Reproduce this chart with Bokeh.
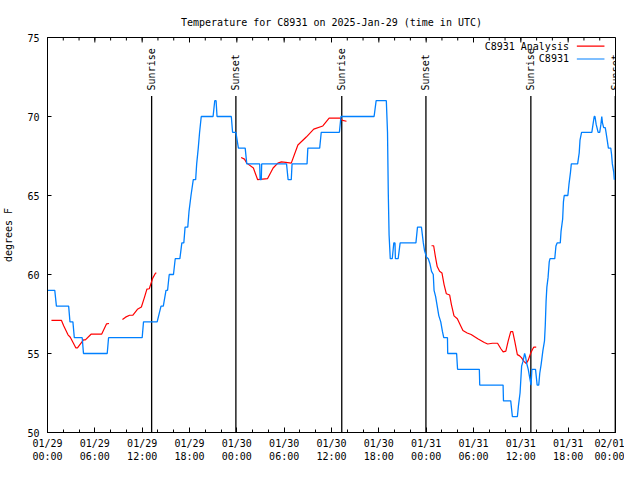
import math
from bokeh.plotting import figure
from bokeh.models import FixedTicker, Label, Range1d
from bokeh.embed import file_html
from bokeh.resources import INLINE

FONT = "DejaVu Sans Mono"
NAN = float("nan")

# ---- axis ticks (x in hours since 2025-01-29 00:00 UTC) ----
x_ticks = [0, 6, 12, 18, 24, 30, 36, 42, 48, 54, 60, 66, 72]
x_tick_labels = ["01/29\n00:00", "01/29\n06:00", "01/29\n12:00", "01/29\n18:00",
                 "01/30\n00:00", "01/30\n06:00", "01/30\n12:00", "01/30\n18:00",
                 "01/31\n00:00", "01/31\n06:00", "01/31\n12:00", "01/31\n18:00",
                 "02/01\n00:00"]
x_minor_ticks = list(range(0, 73, 2))
y_ticks = [50, 55, 60, 65, 70, 75]

# ---- C8931 observations ----
obs_hours = [0.0, 0.92, 1.13, 2.68, 2.85, 3.22, 3.4, 4.4, 4.56, 7.57, 7.74, 12.0, 12.17, 13.9,
             14.39, 14.68, 15.02, 15.22, 15.43, 15.97, 16.19, 16.78, 17.03, 17.28, 17.44, 17.78,
             17.94, 18.19, 18.48, 18.78, 18.91, 19.11, 19.28, 19.49, 20.99, 21.2, 21.37, 21.49,
             23.3, 23.46, 23.88, 24.2, 25.06, 25.26, 26.9, 26.95, 27.1, 27.15, 30.3, 30.5, 30.9,
             31.0, 32.9, 33.0, 34.5, 34.7, 37.0, 37.2, 41.4, 41.66, 42.95, 43.1, 43.2, 43.3, 43.45,
             43.7, 43.9, 44.05, 44.1, 44.45, 44.7, 46.7, 46.9, 47.4, 47.64, 47.8, 48.05, 48.27,
             48.47, 48.68, 48.9, 49.0, 49.2, 49.4, 49.6, 49.85, 50.06, 50.23, 50.7, 50.73, 51.86,
             51.98, 54.74, 54.79, 57.75, 57.8, 58.72, 58.93, 59.56, 59.7, 59.9, 60.1, 60.27, 60.48,
             60.6, 60.73, 60.94, 61.15, 61.3, 61.4, 61.86, 62.07, 62.27, 62.4, 62.57, 62.7, 62.8,
             63.0, 63.1, 63.2, 63.3, 63.45, 63.6, 63.7, 64.3, 64.45, 64.6, 65.0, 65.1, 65.3, 65.4,
             65.5, 65.96, 66.1, 66.3, 66.4, 67.2, 67.4, 67.5, 67.7, 69.0, 69.15, 69.3, 69.4, 69.55,
             69.8, 70.0, 70.15, 70.26, 70.35, 70.5, 70.7, 70.8, 70.95, 71.1, 71.4, 71.5, 71.6,
             71.77, 71.85]
obs_temps = [59, 59, 58, 58, 57, 57, 56, 56, 55, 55, 56, 56, 57, 57,
             58, 58, 59, 59, 60, 60, 61, 61, 62, 62, 63, 63,
             64, 65, 66, 66, 67, 68, 69, 70, 70, 71, 71, 70,
             70, 69, 69, 68, 68, 67, 67, 66, 66, 67, 67, 66, 66,
             67, 67, 68, 68, 69, 69, 70, 70, 71, 71, 69, 65.1, 62.5, 61,
             61, 62, 62, 61, 61, 62, 62, 63, 63, 62, 61.5, 61.1, 61,
             60.7, 60.2, 60, 59, 58.6, 58, 57.4, 57, 56.4, 56, 56, 55, 55,
             54, 54, 53, 53, 52, 52, 51, 51, 51.7, 52.5, 54.2, 54.5, 55,
             54.8, 54.4, 54, 53.4, 53, 54, 54, 53, 53, 53.75, 54.3, 54.8, 55.2,
             55.8, 56.8, 58.3, 59.2, 59.8, 60.8, 61, 61, 61.8, 62, 62, 62.75, 63.5, 64.6,
             65, 65, 65.7, 66.5, 67, 67, 67.7, 68.5, 69, 69, 69.5, 70, 70, 69.5,
             69, 69, 69.5, 70, 69.6, 69.3, 69.3, 69, 68.5, 68, 68, 67.6, 67,
             66.5, 66]

# ---- C8931 Analysis (NaN = gap) ----
ana_hours = [0.5, 1.76, 2.05, 2.6, 2.89, 3.6, 3.8, 4.56, 4.8, 5.52, 6.86, 7.49, 7.8, 8.5,
             9.5, 9.9, 10.4, 10.8, 11.4, 11.9, 12.3, 12.6, 12.9, 13.34, 13.7, 13.8, 20.0,
             24.55, 24.97, 25.26, 26.1, 26.64, 27.9, 28.6, 29.2, 29.65, 30.2, 30.9, 31.74, 32.8,
             33.75, 34.9, 35.7, 37.1, 37.4, 37.9, 43.0,
             48.68, 48.95, 49.18, 49.4, 49.7, 50.0, 50.27, 50.56, 50.98, 51.2, 51.53, 51.95,
             52.37, 52.66, 53.2, 53.7, 54.54, 55.37, 55.8, 56.4, 57.05, 57.47, 57.76, 58.1, 58.4,
             58.72, 58.97, 59.22, 59.56, 59.85, 60.1, 60.39, 60.69, 60.94, 61.23, 61.52, 61.65,
             61.95]
ana_temps = [57.1, 57.1, 56.76, 56.18, 56.03, 55.35, 55.35, 55.86, 55.86, 56.22, 56.22, 56.88, 56.9, NAN,
             57.15, 57.3, 57.42, 57.42, 57.8, 57.94, 58.57, 59.07, 59.1, 59.77, 60.09, 60.09, NAN,
             67.4, 67.3, 67.05, 66.74, 66.0, 66.07, 66.74, 67.05, 67.13, 67.1, 67.05, 68.2, 68.7,
             69.2, 69.4, 69.9, 69.9, 69.75, 69.7, NAN,
             61.82, 61.82, 61.1, 60.5, 60.2, 60.1, 59.36, 58.78, 58.7, 58.1, 57.38, 57.2,
             56.76, 56.45, 56.3, 56.2, 55.93, 55.7, 55.6, 55.65, 55.65, 55.3, 55.1, 55.15, 55.8,
             56.38, 56.38, 55.8, 54.93, 54.85, 54.72, 54.5, 54.37, 54.58, 55.0, 55.3, 55.4,
             55.4]

# ---- sun events ----
sun_events = ["Sunrise", "Sunset", "Sunrise", "Sunset", "Sunrise", "Sunset"]
sun_hours = [13.2, 23.88, 37.3, 47.97, 61.27, 71.97]

legend_names = ["C8931 Analysis", "C8931"]
legend_colors = ["#ff0000", "#0080ff"]

X0, X1, Y0, Y1 = 0, 72, 50, 75
W, H = 624, 464
BL, BR, BT, BB = 47, 9, 37, 30
FW, FH = W - BL - BR, H - BT - BB

p = figure(width=W, height=H,
           x_range=Range1d(X0, X1), y_range=Range1d(Y0, Y1),
           output_backend="svg", toolbar_location=None,
           min_border_left=BL, min_border_right=BR, min_border_top=BT, min_border_bottom=BB,
           background_fill_color="white", border_fill_color="white")
p.grid.visible = False
p.outline_line_color = "black"
p.outline_line_width = 1

p.title.text = "Temperature for C8931 on 2025-Jan-29 (time in UTC)"
p.title.align = "center"
p.title.text_font = FONT
p.title.text_font_size = "10px"
p.title.text_font_style = "normal"
p.title.text_color = "black"
p.title.standoff = 19

xt = FixedTicker(ticks=x_ticks, minor_ticks=x_minor_ticks)
yt = FixedTicker(ticks=y_ticks, minor_ticks=[])

xa = p.xaxis[0]
xa.ticker = xt
xa.major_label_overrides = {t: lab for t, lab in zip(x_ticks, x_tick_labels)}
ya = p.yaxis[0]
ya.ticker = yt
ya.axis_label = "degrees F"

for ax in (xa, ya):
    ax.major_label_text_font = FONT
    ax.major_label_text_font_size = "10px"
    ax.major_label_text_color = "black"
    ax.axis_label_text_font = FONT
    ax.axis_label_text_font_size = "10px"
    ax.axis_label_text_font_style = "normal"
    ax.axis_label_text_color = "black"
    ax.axis_line_color = "black"
    ax.major_tick_line_color = "black"
    ax.minor_tick_line_color = "black"
    ax.major_tick_out = 0
    ax.minor_tick_out = 0
xa.major_tick_in = 5
xa.minor_tick_in = 3
xa.major_label_standoff = 5
ya.major_tick_in = 4
ya.minor_tick_line_color = None
ya.major_label_standoff = 8
ya.axis_label_standoff = 10

# mirrored ticks on top and right edges (5px / 3px / 4px long)
top_major = 5 * (Y1 - Y0) / FH
top_minor = 3 * (Y1 - Y0) / FH
right_len = 4 * (X1 - X0) / FW
p.segment(x0=x_ticks, y0=[Y1] * len(x_ticks), x1=x_ticks, y1=[Y1 - top_major] * len(x_ticks),
          line_color="black", line_width=1)
p.segment(x0=x_minor_ticks, y0=[Y1] * len(x_minor_ticks), x1=x_minor_ticks,
          y1=[Y1 - top_minor] * len(x_minor_ticks), line_color="black", line_width=1)
p.segment(x0=[X1] * len(y_ticks), y0=y_ticks, x1=[X1 - right_len] * len(y_ticks), y1=y_ticks,
          line_color="black", line_width=1)

# sunrise / sunset markers
p.segment(x0=sun_hours, y0=[Y0] * len(sun_hours), x1=sun_hours, y1=[71.3] * len(sun_hours),
          line_color="black", line_width=1.3)
for name, h in zip(sun_events, sun_hours):
    p.add_layout(Label(x=h, y=71.65, text=name, angle=math.pi / 2, text_align="left",
                       text_baseline="middle", text_font=FONT, text_font_size="10px",
                       text_color="black"))

# series
p.line(ana_hours, ana_temps, line_color=legend_colors[0], line_width=1.2)
p.line(obs_hours, obs_temps, line_color=legend_colors[1], line_width=1.3)

# legend (label left, sample right)
leg_y = [74.45, 73.64]
for name, col, yy in zip(legend_names, legend_colors, leg_y):
    p.add_layout(Label(x=66.1, y=yy, text=name, text_align="right", text_baseline="middle",
                       text_font=FONT, text_font_size="10px", text_color="black"))
    p.segment(x0=[67.1], y0=[yy], x1=[70.6], y1=[yy], line_color=col, line_width=1.2)

open("out.html", "w").write(file_html(p, INLINE))
